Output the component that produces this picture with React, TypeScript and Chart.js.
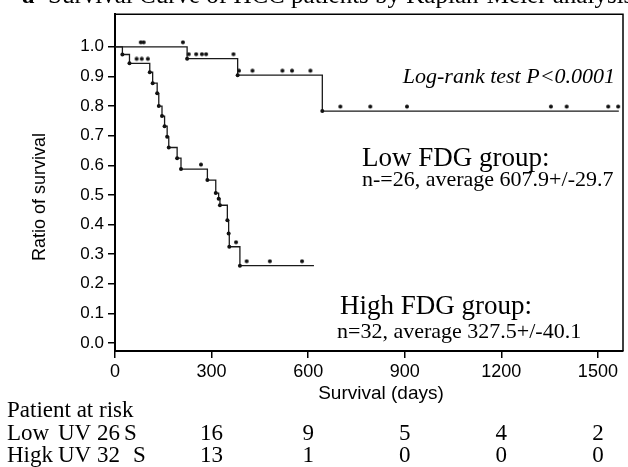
import { useEffect, useRef } from "react";
import { Chart, registerables } from "chart.js";

Chart.register(...registerables);

// ---- data ----
const X_TICKS = [0, 300, 600, 900, 1200, 1500];
const Y_TICKS = [0.0, 0.1, 0.2, 0.3, 0.4, 0.5, 0.6, 0.7, 0.8, 0.9, 1.0];

// Low FDG group: step (event) times and survival after each step
const lowDays = [0, 224, 381, 644, 1565];
const lowSurv = [1.0, 0.96, 0.904, 0.783, 0.783];
// Low FDG group censored observations
const lowCensorDays = [80, 89, 211, 229, 252, 270, 283, 368, 385, 427, 520, 550, 607, 700, 793, 907, 1354, 1403, 1532, 1563];
const lowCensorSurv = [1.0, 1.0, 1.0, 0.96, 0.96, 0.96, 0.96, 0.96, 0.904, 0.904, 0.904, 0.904, 0.904, 0.783, 0.783, 0.783, 0.783, 0.783, 0.783, 0.783];

// High FDG group
const highDays = [0, 23, 45, 108, 117, 131, 136, 146, 154, 162, 167, 193, 205, 287, 313, 322, 326, 349, 353, 355, 388, 618];
const highSurv = [1.0, 0.974, 0.944, 0.914, 0.877, 0.843, 0.8, 0.766, 0.732, 0.696, 0.66, 0.624, 0.587, 0.55, 0.506, 0.487, 0.465, 0.414, 0.37, 0.325, 0.261, 0.261];
const highCensorDays = [67, 83, 102, 267, 376, 409, 481, 581];
const highCensorSurv = [0.944, 0.944, 0.944, 0.587, 0.325, 0.261, 0.261, 0.261];

// Patients at risk at each x tick
const lowAtRisk = [26, 16, 9, 5, 4, 2];
const highAtRisk = [32, 13, 1, 0, 0, 0];

const TITLE = "Survival Curve of HCC patients by Kaplan-Meier analysis";
const LOGRANK = "Log-rank test P<0.0001";
const LOW_LABEL = "Low FDG group:";
const LOW_STATS = "n-=26, average 607.9+/-29.7";
const HIGH_LABEL = "High FDG group:";
const HIGH_STATS = "n=32, average 327.5+/-40.1";

const SERIF = '"Liberation Serif", "Times New Roman", serif';
const SANS = '"Liberation Sans", Arial, sans-serif';

export default function App() {
  const ref = useRef<HTMLCanvasElement>(null);

  useEffect(() => {
    const canvas = ref.current;
    if (!canvas) return;

    // censor mark: small dot sitting just above the curve
    const mark = document.createElement("canvas");
    mark.width = 6;
    mark.height = 14;
    const mctx = mark.getContext("2d")!;
    mctx.fillStyle = "#111";
    mctx.beginPath();
    mctx.arc(3, 2.5, 2, 0, Math.PI * 2);
    mctx.fill();

    const textPlugin = {
      id: "annotations",
      afterDraw(chart: any) {
        const ctx = chart.ctx as CanvasRenderingContext2D;
        const xs = chart.scales.x;
        const area = chart.chartArea;
        ctx.save();
        ctx.fillStyle = "#000";

        // box top & right
        ctx.strokeStyle = "#000";
        ctx.lineWidth = 1.5;
        ctx.beginPath();
        ctx.moveTo(area.left, area.top);
        ctx.lineTo(area.right, area.top);
        ctx.lineTo(area.right, area.bottom);
        ctx.stroke();

        // title (cut at top)
        ctx.textAlign = "left";
        ctx.textBaseline = "alphabetic";
        ctx.font = `bold 25px ${SERIF}`;
        ctx.fillText("a", 22, 3);
        ctx.font = `25px ${SERIF}`;
        ctx.fillText(TITLE, 48, 3);

        // log-rank
        ctx.font = `italic 22px ${SERIF}`;
        ctx.textAlign = "right";
        ctx.fillText(LOGRANK, 615, 83);

        // group labels
        ctx.textAlign = "left";
        ctx.font = `27px ${SERIF}`;
        ctx.fillText(LOW_LABEL, 362, 166);
        ctx.fillText(HIGH_LABEL, 340, 314);
        ctx.font = `22px ${SERIF}`;
        ctx.fillText(LOW_STATS, 362, 186);
        ctx.fillText(HIGH_STATS, 337, 338);

        // axis titles
        ctx.font = `19px ${SANS}`;
        ctx.textAlign = "center";
        ctx.textBaseline = "middle";
        ctx.fillText("Survival (days)", 381, 394);
        ctx.save();
        ctx.translate(40, 197);
        ctx.rotate(-Math.PI / 2);
        ctx.font = `18px ${SANS}`;
        ctx.fillText("Ratio of survival", 0, 0);
        ctx.restore();

        // at-risk table
        ctx.textBaseline = "alphabetic";
        ctx.textAlign = "left";
        ctx.font = `23px ${SERIF}`;
        ctx.fillText("Patient at risk", 7, 417);
        ctx.fillText("Low", 7, 440);
        ctx.fillText("UV", 58, 440);
        ctx.fillText(String(lowAtRisk[0]), 97, 440);
        ctx.fillText("S", 124, 440);
        ctx.fillText("Higk", 7, 462);
        ctx.fillText("UV", 58, 462);
        ctx.fillText(String(highAtRisk[0]), 97, 462);
        ctx.fillText("S", 133, 462);
        ctx.textAlign = "center";
        for (let i = 1; i < X_TICKS.length; i++) {
          const px = xs.getPixelForValue(X_TICKS[i]);
          ctx.fillText(String(lowAtRisk[i]), px, 440);
          ctx.fillText(String(highAtRisk[i]), px, 462);
        }
        ctx.restore();
      },
    };

    const stepRadius = (n: number) => (c: any) => (c.dataIndex === 0 || c.dataIndex === n - 1 ? 0 : 2);

    const chart = new Chart(canvas, {
      type: "line",
      data: {
        datasets: [
          {
            data: lowDays.map((d, i) => ({ x: d, y: lowSurv[i] })),
            stepped: true,
            borderColor: "#1a1a1a",
            borderWidth: 1.3,
            pointRadius: stepRadius(lowDays.length),
            pointBackgroundColor: "#111",
            pointBorderWidth: 0,
            fill: false,
          },
          {
            data: highDays.map((d, i) => ({ x: d, y: highSurv[i] })),
            stepped: true,
            borderColor: "#1a1a1a",
            borderWidth: 1.3,
            pointRadius: stepRadius(highDays.length),
            pointBackgroundColor: "#111",
            pointBorderWidth: 0,
            fill: false,
          },
          {
            data: lowCensorDays.map((d, i) => ({ x: d, y: lowCensorSurv[i] })),
            showLine: false,
            pointStyle: mark as any,
            pointRadius: 3,
          },
          {
            data: highCensorDays.map((d, i) => ({ x: d, y: highCensorSurv[i] })),
            showLine: false,
            pointStyle: mark as any,
            pointRadius: 3,
          },
        ] as any,
      },
      options: {
        responsive: false,
        animation: false,
        events: [],
        layout: { padding: { top: 12, right: 3, left: 0, bottom: 0 } },
        plugins: {
          legend: { display: false },
          tooltip: { enabled: false },
          title: { display: false },
        },
        scales: {
          x: {
            type: "linear",
            min: 0,
            max: 1578,
            afterBuildTicks: (s: any) => {
              s.ticks = X_TICKS.map((v) => ({ value: v }));
            },
            afterFit: (s: any) => {
              s.height = 116;
            },
            ticks: {
              color: "#000",
              font: { family: SANS, size: 18 },
              padding: 3,
              maxRotation: 0,
              autoSkip: false,
              callback: (v: any) => String(v),
            },
            grid: { drawOnChartArea: false, drawTicks: true, tickLength: 7, color: "#000", lineWidth: 1.5 },
            border: { display: true, color: "#000", width: 2 },
          },
          y: {
            type: "linear",
            min: -0.027,
            max: 1.11,
            afterBuildTicks: (s: any) => {
              s.ticks = Y_TICKS.map((v) => ({ value: v }));
            },
            afterFit: (s: any) => {
              s.width = 115;
            },
            ticks: {
              color: "#000",
              font: { family: SANS, size: 17 },
              padding: 4,
              autoSkip: false,
              callback: (v: any) => Number(v).toFixed(1),
            },
            grid: { drawOnChartArea: false, drawTicks: true, tickLength: 7, color: "#000", lineWidth: 1.5 },
            border: { display: true, color: "#000", width: 2 },
          },
        },
      } as any,
      plugins: [textPlugin],
    });

    return () => chart.destroy();
  }, []);

  return (
    <div style={{ position: "fixed", left: 0, top: 0, width: 628, height: 467, background: "#fff" }}>
      <canvas ref={ref} width={628} height={467} style={{ display: "block" }} />
    </div>
  );
}
